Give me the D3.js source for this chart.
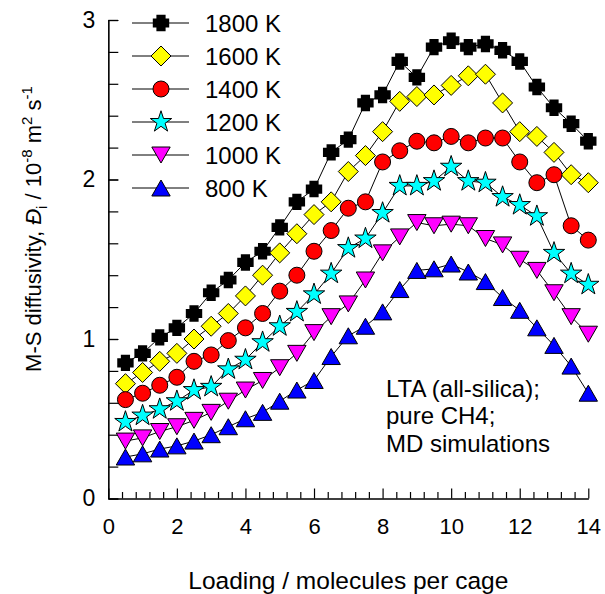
<!DOCTYPE html>
<html>
<head>
<meta charset="utf-8">
<script src="https://cdn.jsdelivr.net/npm/d3@7"></script>
<style>
  body { margin: 0; background: #fff; }
  svg { display: block; font-family: "Liberation Sans", Arial, sans-serif; }
  .axis path, .axis line { stroke: #000; stroke-width: 1.2; }
  .axis text { font-size: 22px; fill: #000; }
</style>
</head>
<body>
<div id="chart"></div>
<script>
// loading, molecules per cage
var loading = [0.5, 1, 1.5, 2, 2.5, 3, 3.5, 4, 4.5, 5, 5.5, 6, 6.5, 7,
               7.5, 8, 8.5, 9, 9.5, 10, 10.5, 11, 11.5, 12, 12.5, 13, 13.5, 14]

// M-S diffusivity, 10^-8 m2/s
var d1800 = [0.85, 0.91, 1.01, 1.07, 1.16, 1.29, 1.37, 1.48, 1.55, 1.70, 1.86, 1.94, 2.17, 2.25,
             2.48, 2.53, 2.74, 2.64, 2.83, 2.87, 2.83, 2.85, 2.81, 2.74, 2.58, 2.45, 2.35, 2.24]
var d1600 = [0.72, 0.79, 0.86, 0.91, 1.00, 1.08, 1.16, 1.27, 1.40, 1.54, 1.66, 1.78, 1.86, 2.05,
             2.15, 2.30, 2.49, 2.52, 2.53, 2.59, 2.65, 2.66, 2.48, 2.30, 2.27, 2.17, 2.03, 1.98]
var d1400 = [0.62, 0.66, 0.71, 0.76, 0.86, 0.90, 0.99, 1.07, 1.16, 1.30, 1.40, 1.55, 1.68, 1.82,
             1.86, 2.11, 2.18, 2.24, 2.23, 2.27, 2.23, 2.26, 2.26, 2.11, 1.98, 2.03, 1.71, 1.62]
var d1200 = [0.48, 0.52, 0.56, 0.61, 0.68, 0.70, 0.81, 0.87, 0.98, 1.08, 1.17, 1.28, 1.41, 1.57,
             1.63, 1.79, 1.96, 1.96, 1.99, 2.08, 1.99, 1.98, 1.89, 1.84, 1.77, 1.54, 1.41, 1.34]
var d1000 = [0.36, 0.38, 0.42, 0.45, 0.49, 0.54, 0.61, 0.68, 0.74, 0.82, 0.91, 1.04, 1.14, 1.22,
             1.37, 1.54, 1.64, 1.73, 1.71, 1.72, 1.71, 1.63, 1.59, 1.50, 1.43, 1.29, 1.14, 1.03]
var d800  = [0.26, 0.28, 0.31, 0.33, 0.36, 0.40, 0.45, 0.50, 0.54, 0.61, 0.68, 0.74, 0.89, 1.02,
             1.08, 1.17, 1.31, 1.43, 1.44, 1.47, 1.42, 1.36, 1.26, 1.18, 1.07, 0.96, 0.83, 0.66]

var seriesNames = ["1800 K", "1600 K", "1400 K", "1200 K", "1000 K", "800 K"]
var seriesValues = [d1800, d1600, d1400, d1200, d1000, d800]
var seriesColors = ["#000000", "#ffff00", "#ff0000", "#00ffff", "#ff00ff", "#0000ff"]
var seriesShapes = ["cross", "diamond", "circle", "star", "triDown", "triUp"]

var xTicks = [0, 2, 4, 6, 8, 10, 12, 14]
var yTicks = [0, 1, 2, 3]
var noteLines = ["LTA (all-silica);", "pure CH4;", "MD simulations"]

var width = 605, height = 594

var svg = d3.select("#chart").append("svg")
    .attr("width", width)
    .attr("height", height)

var x = d3.scaleLinear().domain([0, 14]).range([108.3, 588.3])
var y = d3.scaleLinear().domain([0, 3]).range([498.5, 20])

// marker paths, centred on the point
var markerPath = function(shape) {
  if (shape == "cross") {
    var a = 4.6, b = 8.2
    return "M" + (-a) + "," + (-b) + "H" + a + "V" + (-a) + "H" + b + "V" + a + "H" + a +
      "V" + b + "H" + (-a) + "V" + a + "H" + (-b) + "V" + (-a) + "H" + (-a) + "Z"
  }
  if (shape == "diamond") {
    var r = 10
    return "M0," + (-r) + "L" + r + ",0L0," + r + "L" + (-r) + ",0Z"
  }
  if (shape == "circle") return d3.symbol(d3.symbolCircle, Math.PI * 8 * 8)()
  if (shape == "star") return d3.symbol(d3.symbolStar, 142)()
  var w = 9.2, h = 8
  if (shape == "triUp") return "M0," + (-h) + "L" + w + "," + h + "L" + (-w) + "," + h + "Z"
  return "M0," + h + "L" + w + "," + (-h) + "L" + (-w) + "," + (-h) + "Z"
}

// axes, ticks pointing inward
var xMinor = d3.range(0, 14.01, 0.4).filter(function(d) { return Math.abs(d / 2 - Math.round(d / 2)) > 1e-6 })
svg.append("g")
    .attr("class", "axis")
    .attr("transform", "translate(0," + y(0) + ")")
    .call(d3.axisBottom(x).tickValues(xMinor).tickSize(-6.5).tickSizeOuter(0).tickFormat(""))
svg.append("g")
    .attr("class", "axis")
    .attr("transform", "translate(0," + y(0) + ")")
    .call(d3.axisBottom(x).tickValues(xTicks).tickSize(-10).tickSizeOuter(0).tickPadding(20))

var yMinor = d3.range(0, 3.01, 0.2)
svg.append("g")
    .attr("class", "axis")
    .attr("transform", "translate(" + x(0) + ",0)")
    .call(d3.axisLeft(y).tickValues(yMinor).tickSize(-10).tickSizeOuter(0).tickFormat(""))
svg.append("g")
    .attr("class", "axis")
    .attr("transform", "translate(" + x(0) + ",0)")
    .call(d3.axisLeft(y).tickValues(yTicks).tickFormat(d3.format("d")).tickSize(-10).tickSizeOuter(0).tickPadding(13))
  .selectAll("text").style("font-size", "23px")

// series
var line = d3.line()
    .x(function(d) { return x(d[0]) })
    .y(function(d) { return y(d[1]) })

seriesValues.forEach(function(vals, i) {
  var pts = loading.map(function(l, j) { return [l, vals[j]] })
  svg.append("path")
      .datum(pts)
      .attr("d", line)
      .attr("fill", "none")
      .attr("stroke", "#000")
      .attr("stroke-width", 1)
  svg.append("g").selectAll("path")
      .data(pts)
    .enter().append("path")
      .attr("transform", function(d) { return "translate(" + x(d[0]) + "," + y(d[1]) + ")" })
      .attr("d", markerPath(seriesShapes[i]))
      .attr("fill", seriesColors[i])
      .attr("stroke", "#000")
      .attr("stroke-width", seriesShapes[i] == "cross" ? 0 : 1)
})

// legend
var legend = svg.append("g")
seriesNames.forEach(function(name, i) {
  var ly = 23 + i * 33
  legend.append("line")
      .attr("x1", 132).attr("x2", 189)
      .attr("y1", ly).attr("y2", ly)
      .attr("stroke", "#000").attr("stroke-width", 1)
  legend.append("path")
      .attr("transform", "translate(161," + ly + ")")
      .attr("d", markerPath(seriesShapes[i]))
      .attr("fill", seriesColors[i])
      .attr("stroke", "#000")
      .attr("stroke-width", seriesShapes[i] == "cross" ? 0 : 1)
  legend.append("text")
      .attr("x", 205)
      .attr("y", ly + 9)
      .style("font-size", "24px")
      .text(name)
})

// note
noteLines.forEach(function(t, i) {
  svg.append("text")
      .attr("x", 386)
      .attr("y", 396.7 + i * 27.5)
      .style("font-size", "24px")
      .text(t)
})

// axis titles
svg.append("text")
    .attr("x", x(7))
    .attr("y", 589)
    .attr("text-anchor", "middle")
    .style("font-size", "24.5px")
    .text("Loading / molecules per cage")

var yTitle = svg.append("text")
    .attr("transform", "translate(41,229) rotate(-90)")
    .attr("text-anchor", "middle")
    .style("font-size", "22px")
yTitle.append("tspan").text("M-S diffusivity, ")
yTitle.append("tspan").style("font-style", "italic").text("\u0110")
yTitle.append("tspan").attr("dy", 6).style("font-size", "15px").text("i")
yTitle.append("tspan").attr("dy", -6).text(" / 10")
yTitle.append("tspan").attr("dy", -9).style("font-size", "15px").text("-8")
yTitle.append("tspan").attr("dy", 9).text(" m")
yTitle.append("tspan").attr("dy", -9).style("font-size", "15px").text("2")
yTitle.append("tspan").attr("dy", 9).text(" s")
yTitle.append("tspan").attr("dy", -9).style("font-size", "15px").text("-1")
</script>
</body>
</html>
